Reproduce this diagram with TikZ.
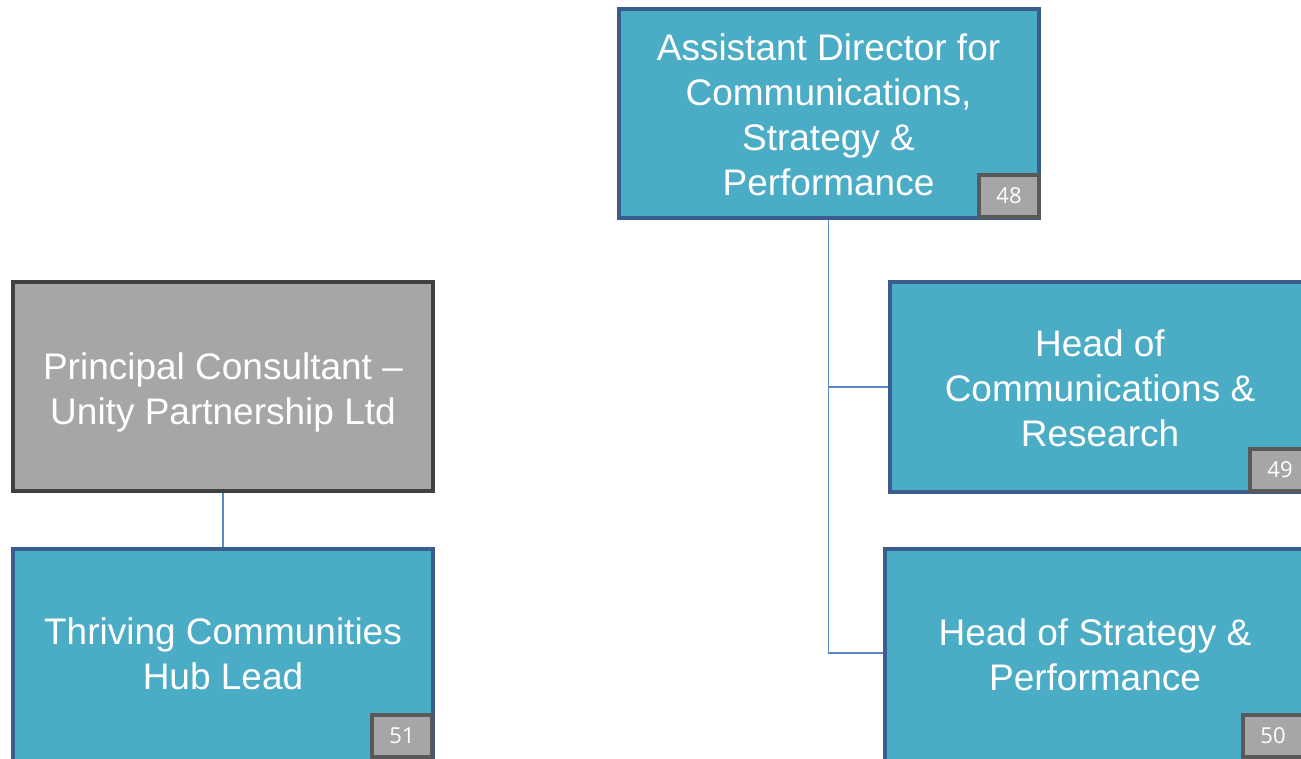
\documentclass[tikz,border=0pt]{standalone}
\usepackage{fontspec}
\setmainfont{Liberation Sans}
\newfontfamily\badgefont{Open Sans}
\definecolor{boxfill}{HTML}{4BACC6}
\definecolor{boxline}{HTML}{3A5C8E}
\definecolor{grayfill}{HTML}{A6A6A6}
\definecolor{grayline}{HTML}{404040}
\definecolor{badgeline}{HTML}{595959}
\definecolor{conn}{HTML}{5B87C8}
\tikzset{
  rolebox/.style={draw=boxline, fill=boxfill, line width=4pt, minimum width=420pt, minimum height=209pt,
    inner sep=0pt},
  graybox/.style={rolebox, draw=grayline, fill=grayfill},
  roletext/.style={inner sep=0pt, align=center, text=white, font=\fontsize{37}{45}\selectfont},
  badge/.style={draw=badgeline, fill=grayfill, line width=4pt, minimum width=60pt, minimum height=42pt,
    inner sep=0pt, text=white, font=\badgefont\fontsize{22}{24}\selectfont},
  conline/.style={draw=conn, line width=1.8pt}
}
\begin{document}
\begin{tikzpicture}[x=1pt,y=-1pt]
\useasboundingbox (0,0) rectangle (1301,759);
\clip (0,0) rectangle (1301,759);
\coordinate (j1) at (828.5,387);
\coordinate (j2) at (828.5,653);
% boxes
\node[rolebox] (ad) at (828.5,114) {};
\node[graybox] (pc) at (223,386.5) {};
\node[rolebox, minimum height=225pt] (tc) at (223,661.5) {};
\node[rolebox, minimum width=440pt] (hc) at (1110,387) {};
\node[rolebox, minimum width=440pt, minimum height=225pt] (hs) at (1105,661.5) {};
% texts
\node[roletext] (adt) at (828.5,114.5) {Assistant Director for\\Communications,\\Strategy \&\\Performance};
\node[roletext] (pct) at (223,392) {Principal Consultant –\\Unity Partnership Ltd};
\node[roletext] (tct) at (223,654) {Thriving Communities\\Hub Lead};
\node[roletext] (hct) at (1100,388) {Head of\\Communications \&\\Research};
\node[roletext] (hst) at (1095,654.5) {Head of Strategy \&\\Performance};
% connectors
\draw[conline] (ad.south) -- (j2) -- (j2 -| hs.west);
\draw[conline] (j1) -- (j1 -| hc.west);
\draw[conline] (pc.south) -- (tc.north);
% badges
\node[badge] (b48) at (1009,196) {48};
\node[badge] (b49) at (1280,470) {49};
\node[badge] (b51) at (402,736) {51};
\node[badge] (b50) at (1273,736) {50};
\end{tikzpicture}
\end{document}
